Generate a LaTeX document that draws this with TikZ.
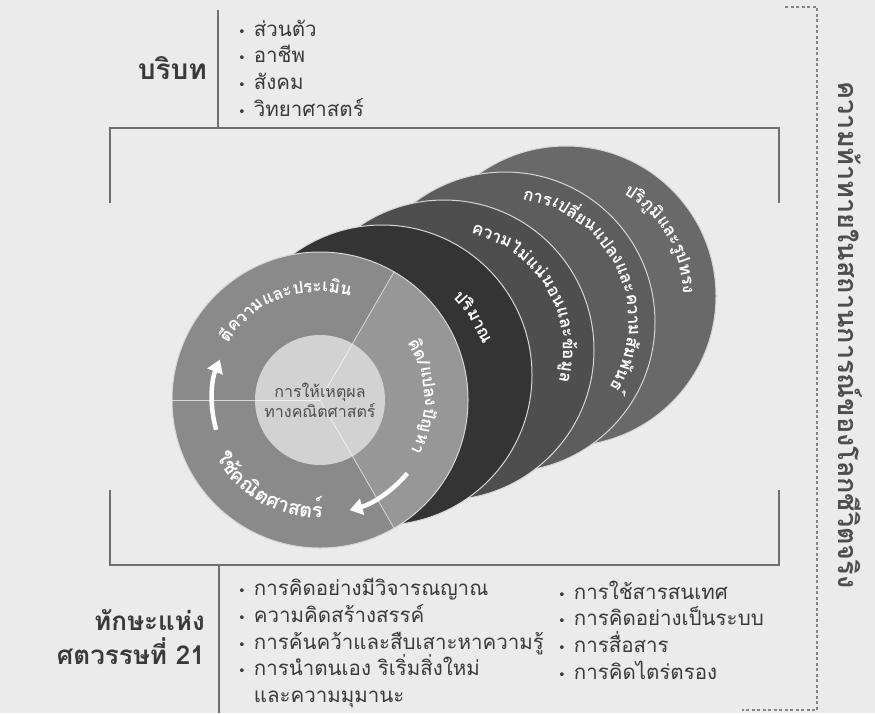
\documentclass[tikz,border=0pt]{standalone}
\usepackage{fontspec}
\setmainfont{Loma}[Script=Thai]
\newfontfamily\symfont{DejaVu Sans}
\usetikzlibrary{positioning, arrows.meta, decorations.text}

\definecolor{bgcol}{HTML}{EBEBEB}
\definecolor{linecol}{HTML}{6F6F6F}
\definecolor{txtcol}{HTML}{3A3A3A}
\definecolor{rimcol}{HTML}{D6D6D6}
\definecolor{discA}{HTML}{343434}
\definecolor{discB}{HTML}{4E4E4E}
\definecolor{discC}{HTML}{5D5D5D}
\definecolor{discD}{HTML}{696969}
\definecolor{ringcol}{HTML}{8A8A8A}
\definecolor{ringlight}{HTML}{979797}
\definecolor{hubcol}{HTML}{D2D2D2}

\newcommand{\bul}{{\symfont\fontsize{13}{13}\selectfont •}\hspace{8pt}}
\newcommand{\ringfont}{\bfseries\fontsize{17}{17}\selectfont\color{white}}
\newcommand{\bigringfont}{\bfseries\fontsize{20}{20}\selectfont\color{white}}

\begin{document}
\begin{tikzpicture}[x=1pt, y=1pt]
	% Define styles
	\tikzset{
		disc/.style={circle, draw=rimcol, line width=1pt, minimum size=300pt, inner sep=0pt},
		wheel/.style={circle, fill=ringcol, minimum size=296pt, inner sep=0pt},
		hub/.style={circle, fill=hubcol, minimum size=130pt, inner sep=0pt},
		bracketline/.style={draw=linecol, line width=2pt},
		listtext/.style={align=left, text=txtcol, inner sep=0pt, font=\fontsize{20.5}{26.6}\selectfont},
		headtext/.style={align=right, text=txtcol, inner sep=0pt, font=\bfseries\fontsize{26}{34}\selectfont},
		arctext/.style={decorate, decoration={text along path, text align=center}},
		cyclearrow/.style={draw=white, line width=4.5pt, -{Triangle[length=13pt, width=16pt]}},
		spoke/.style={draw=white, line width=0.8pt, opacity=0.65}
	}
	
	% Background
	\useasboundingbox (0,0) rectangle (875,-713);
	\fill[bgcol] (0,0) rectangle (875,-713);
	
	% Context block
	\coordinate (ctxmid) at (218,-68);
	\draw[bracketline] (218,-10) -- (218,-128);
	\node[headtext, font=\bfseries\fontsize{28}{34}\selectfont, left=11pt of ctxmid] (ctxhead) {บริบท};
	\node[listtext, right=20pt of ctxmid] (ctxlist) {\bul ส่วนตัว\\ \bul อาชีพ\\ \bul สังคม\\ \bul วิทยาศาสตร์};
	
	% Bracket round the model
	\draw[bracketline] (110,-203) -- (110,-128) -- (779,-128) -- (779,-203);
	\draw[bracketline] (110,-490) -- (110,-565) -- (779,-565) -- (779,-490);
	
	% Skills block
	\coordinate (skillmid) at (219,-637);
	\draw[bracketline] (219,-565) -- (219,-713);
	\node[headtext, left=14pt of skillmid] (skillhead) {ทักษะแห่ง\\ศตวรรษที่ 21};
	\node[listtext, right=19pt of skillmid, yshift=-6pt] (skilla) {\bul การคิดอย่างมีวิจารณญาณ\\ \bul ความคิดสร้างสรรค์\\ \bul การค้นคว้าและสืบเสาะหาความรู้\\ \bul การนำตนเอง ริเริ่มสิ่งใหม่\\ \phantom{\bul}และความมุมานะ};
	\node[listtext, anchor=west] (skillb) at (558,-630) {\bul การใช้สารสนเทศ\\ \bul การคิดอย่างเป็นระบบ\\ \bul การสื่อสาร\\ \bul การคิดไตร่ตรอง};
	
	% Real world challenge
	\draw[linecol!85, line width=1.6pt, dash pattern=on 3pt off 2.5pt] (785,-7) -- (817,-7) -- (817,-710) -- (742,-710);
	\node[rotate=-90, text=txtcol!90, font=\bfseries\fontsize{27}{27}\selectfont] (challenge) at (850,-335) {ความท้าทายในสถานการณ์ของโลกชีวิตจริง};
	
	% Content discs
	\node[disc, fill=discD] (qd) at (566,-296) {};
	\node[disc, fill=discC] (qc) at (505,-322) {};
	\node[disc, fill=discB] (qb) at (444,-350) {};
	\node[disc, fill=discA] (qa) at (382,-375) {};
	\path[arctext, decoration={text={|\ringfont|{ปริ}{ภูมิ}{และ}{รูป}{ทรง}}}] ([shift={(111:117)}]qd.center) arc[start angle=111, end angle=-49, radius=117];
	\path[arctext, decoration={text={|\ringfont|{การ}{เปลี่ยน}{แปลง}{และ}{ความ}{สัม}{พันธ์}}}] ([shift={(113:123)}]qc.center) arc[start angle=113, end angle=-63, radius=123];
	\path[arctext, decoration={text={|\ringfont|{ความ}{ไม่}{แน่}{นอน}{และ}{ข้อ}{มูล}}}] ([shift={(119:119)}]qb.center) arc[start angle=119, end angle=-57, radius=119];
	\path[arctext, decoration={text={|\ringfont|{ปริ}{มาณ}}}] ([shift={(112:104)}]qa.center) arc[start angle=112, end angle=-48, radius=104];
	
	% Process wheel
	\node[wheel] (w) at (320,-400) {};
	\fill[ringlight] (w.center) -- ++(-60:148) arc[start angle=-60, end angle=60, radius=148] -- cycle;
	\draw[rimcol, line width=1pt] (w.center) circle[radius=148];
	\node[hub] (hub) at (w.center) {};
	\draw[spoke] (w.center) -- (w.180);
	\draw[spoke] (w.center) -- (w.60);
	\draw[spoke] (w.center) -- (w.-60);
	\node[align=center, text=txtcol!90, font=\fontsize{16}{20}\selectfont] (hublabel) at (hub) {การให้เหตุผล\\ทางคณิตศาสตร์};
	\path[arctext, decoration={text={|\ringfont|{ตี}{ความ}{และ}{ประ}{เมิน}}}] ([shift={(190:108)}]w.center) arc[start angle=190, end angle=32, radius=108];
	\path[arctext, decoration={text={|\ringfont|{คิด}/{แปลง}{ปัญ}{หา}}}] ([shift={(80:104)}]w.center) arc[start angle=80, end angle=-76, radius=104];
	\path[arctext, decoration={text={|\bigringfont|{ใช้}{คณิต}{ศาสตร์}}}] ([shift={(170:118)}]w.center) arc[start angle=170, end angle=310, radius=118];
	\draw[cyclearrow] ([shift={(196:108)}]w.center) arc[start angle=196, end angle=158, radius=108];
	\draw[cyclearrow] ([shift={(-40:114)}]w.center) arc[start angle=-40, end angle=-75, radius=114];
	
\end{tikzpicture}
\end{document}
